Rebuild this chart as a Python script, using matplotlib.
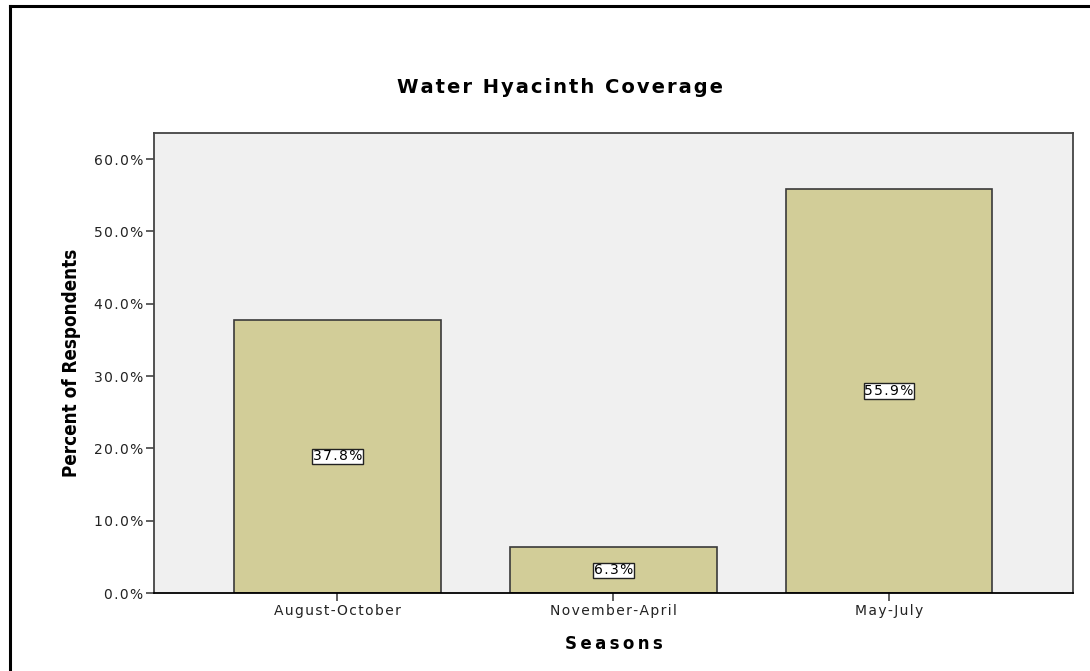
import matplotlib.pyplot as plt
from matplotlib.lines import Line2D
from matplotlib.ticker import FuncFormatter

seasons = ["August-October", "November-April", "May-July"]
percent = [37.8, 6.3, 55.9]
y_ticks = [0, 10, 20, 30, 40, 50, 60]

bar_color = "#D2CD98"
panel_color = "#F0F0F0"


def spaced(text, gap="\u200a"):
    # widen text a little by putting a narrow space between the letters
    return gap.join(text)


fig = plt.figure(figsize=(10.9, 6.71), dpi=100)
fig.patch.set_facecolor("white")

# Frame on the top and left edges of the figure
fig.add_artist(Line2D([0.009, 0.009], [0, 0.991], color="black", lw=2.2,
                      transform=fig.transFigure))
fig.add_artist(Line2D([0.009, 1.0], [0.991, 0.991], color="black", lw=2.2,
                      transform=fig.transFigure))

ax = fig.add_axes([0.1413, 0.1162, 0.8431, 0.6856])
ax.set_facecolor(panel_color)

x = range(len(seasons))
ax.bar(x, percent, width=0.75, color=bar_color, edgecolor="#3a3a3a",
       linewidth=1.2, zorder=2)

# Value labels in the middle of each bar
for xi, val in zip(x, percent):
    ax.text(xi, val / 2, spaced(f"{val:.1f}%"), ha="center", va="center",
            fontsize=10, color="black", zorder=3,
            bbox=dict(facecolor="white", edgecolor="#222222", linewidth=1,
                      boxstyle="square,pad=0.05"))

ax.set_xlim(-0.665, 2.667)
ax.set_ylim(0, 63.6)
ax.set_yticks(y_ticks)
ax.yaxis.set_major_formatter(FuncFormatter(lambda v, _: spaced(f"{v:.1f}%")))
ax.set_xticks(list(x))
ax.set_xticklabels([spaced(s) for s in seasons])

for side in ["left", "right", "top", "bottom"]:
    ax.spines[side].set_color("#444444")
    ax.spines[side].set_linewidth(1.3)
ax.spines["bottom"].set_color("black")

ax.tick_params(axis="both", direction="out", length=6, width=1.2,
               colors="#444444", labelsize=10, labelcolor="#222222", pad=2)

ax.set_ylabel("Percent of Respondents", fontsize=13.5, fontweight="bold",
              fontstretch="condensed", labelpad=9)
ax.set_xlabel(spaced("Seasons", "\u2009"), fontsize=12,
              fontweight="bold", labelpad=12)

fig.text(0.514, 0.87, spaced("Water Hyacinth Coverage"),
         ha="center", va="center", fontsize=14, fontweight="bold")

fig.savefig("out.png", dpi=100)
